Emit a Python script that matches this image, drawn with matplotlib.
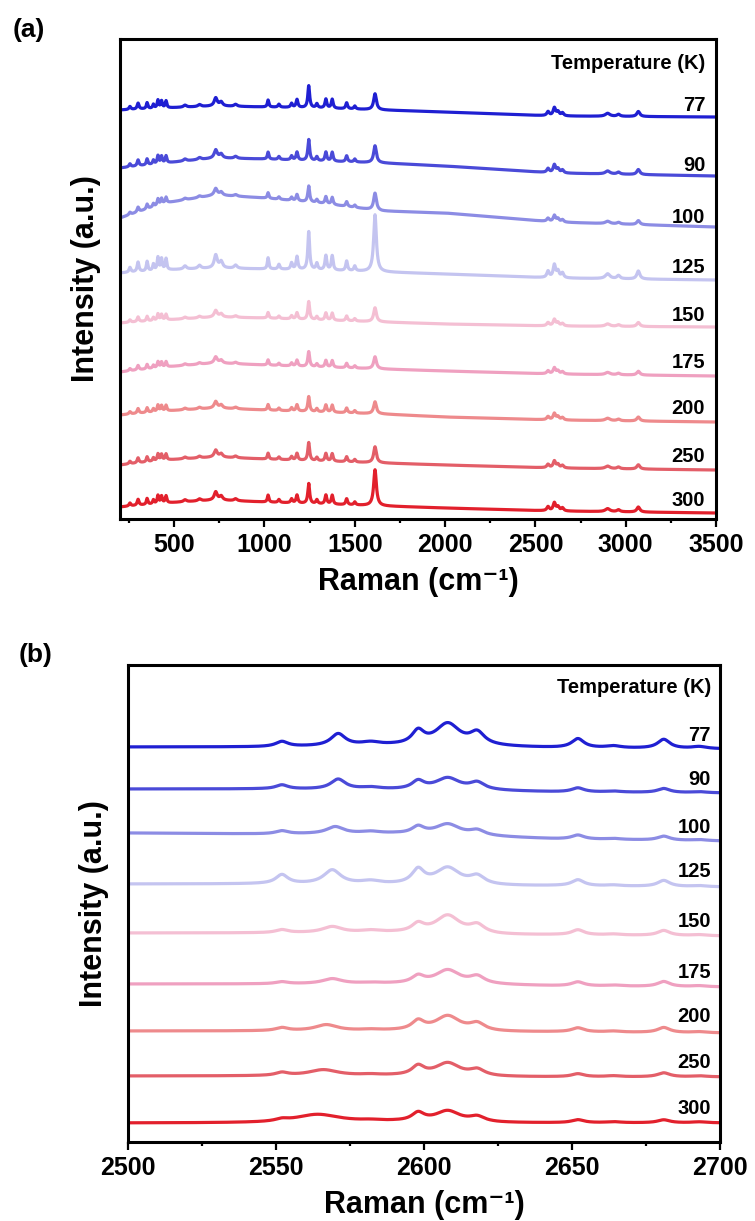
import numpy as np
import matplotlib.pyplot as plt
from matplotlib.ticker import MultipleLocator

plt.rcParams['font.family'] = ['Liberation Sans', 'DejaVu Sans']
plt.rcParams['font.weight'] = 'bold'

# temperatures and trace colours (top to bottom)
temps = [77, 90, 100, 125, 150, 175, 200, 250, 300]
colors = ['#1f1fd2', '#4a4ad8', '#8c8ce4', '#c4c4f0', '#f4bfd3',
          '#efa0c0', '#ee8a8c', '#e35e68', '#e2202c']

# ---- panel (a): full range spectra ----
# baseline (offset intensity, a.u.) read at these Raman shifts
base_x_a = [200, 450, 730, 1000, 1300, 1650, 2000, 2600, 3500]
base_a = {
    77:  [409, 411, 413, 412, 411, 409, 407, 403, 402],
    90:  [351, 356, 361, 360, 358, 356, 353, 346, 343],
    100: [301, 316, 324, 321, 316, 308, 306, 297, 292],
    125: [246, 249, 251, 250, 249, 247, 245, 241, 239],
    150: [196, 199, 202, 201, 199, 197, 195, 193, 192],
    175: [147, 152, 156, 154, 152, 150, 148, 145, 143],
    200: [104, 108, 111, 109, 107, 105, 102, 99, 97],
    250: [54, 59, 62, 60, 58, 56, 54, 51, 49],
    300: [12, 16, 19, 17, 15, 13, 11, 8, 6],
}
# minor bands (position, width, height for 77 K)
pos_a = [255, 300, 350, 385, 410, 430, 455, 560, 640, 730, 760, 840, 1020, 1080,
         1150, 1180, 1290, 1340, 1375, 1455, 1500, 2570, 2605, 2625, 2650, 2900,
         2960, 3070]
wid_a = [6, 6, 5, 5, 5, 5, 5, 10, 10, 10, 10, 10, 5, 6, 6, 6, 6, 6, 6, 6, 6,
         8, 8, 8, 8, 15, 10, 10]
rel_a = [3, 6, 6, 4, 8, 7, 7, 2, 2, 8, 4, 2, 7, 3, 4, 8, 4, 9, 9, 6, 3,
         4, 8, 4, 3, 3, 2, 5]
scale_a = [1.0, 1.0, 0.8, 1.6, 0.8, 0.75, 0.8, 0.85, 1.0]
# strong bands at 1245 and 1612 cm-1
h1245 = [22, 21, 16, 38, 18, 15, 15, 18, 20]
h1612 = [16, 17, 17, 57, 14, 12, 12, 16, 36]

# ---- panel (b): 2500-2700 cm-1 ----
base_x_b = [2500, 2545, 2590, 2625, 2645, 2700]
base_b = {
    77:  [395, 395, 396, 395, 394, 393],
    90:  [353, 353, 352, 351, 350, 349],
    100: [309, 308, 308, 305, 303, 301],
    125: [258, 258, 257, 256, 256, 255],
    150: [209, 209, 209, 207, 207, 206],
    175: [158, 158, 158, 157, 156, 155],
    200: [111, 111, 111, 110, 110, 109],
    250: [66, 66, 66, 65, 65, 65],
    300: [19, 19, 20, 19, 19, 19],
}
pos_b = [2552, 2570, 2582, 2598, 2608, 2618, 2652, 2664, 2681, 2693]
wid_b = [2.5, 3, 4, 2.5, 5, 3, 2.5, 3, 2.5, 3]
peak_b = {
    77:  [5, 12, 3, 13, 22, 12, 9, 2, 9, 2],
    90:  [4, 10, 2, 8, 12, 7, 4, 1, 4, 1],
    100: [3, 7, 2, 7, 11, 5, 4, 1, 4, 1],
    125: [9, 14, 3, 14, 17, 8, 6, 1, 6, 1],
    150: [3, 6, 2, 8, 18, 8, 5, 1, 5, 1],
    175: [2, 5, 1, 7, 14, 7, 4, 1, 5, 1],
    200: [3, 6, 1, 9, 15, 7, 4, 1, 5, 1],
    250: [3, 6, 1, 9, 13, 6, 3, 1, 4, 1],
    300: [2, 8, 1, 8, 11, 5, 3, 1, 3, 1],
}
# the 2570 band shifts and broadens with temperature
pos2570 = [2571, 2571, 2570, 2569, 2569, 2569, 2567, 2566, 2564]
wid2570 = [3, 3, 3.5, 3.5, 4, 4, 4.5, 6, 9]


def lorentz(x, p, w, h):
    return h / (1 + ((x - p) / w) ** 2)


fig = plt.figure(figsize=(7.55, 12.21), dpi=100)
W, H = 755, 1221
ax1 = fig.add_axes([120 / W, 1 - 519 / H, 596 / W, 480 / H])
ax2 = fig.add_axes([128 / W, 1 - 1142 / H, 592 / W, 477 / H])

xa = np.linspace(200, 3500, 6000)
for i, t in enumerate(temps):
    y = np.interp(xa, base_x_a, base_a[t])
    for p, w, h in zip(pos_a, wid_a, rel_a):
        y = y + lorentz(xa, p, w, h * scale_a[i])
    y = y + lorentz(xa, 1245, 6, h1245[i]) + lorentz(xa, 1612, 9, h1612[i])
    ax1.plot(xa, y, color=colors[i], lw=2.3)

xb = np.linspace(2500, 2700, 2000)
for i, t in enumerate(temps):
    y = np.interp(xb, base_x_b, base_b[t])
    pos = list(pos_b)
    wid = list(wid_b)
    pos[1] = pos2570[i]
    wid[1] = wid2570[i]
    for p, w, h in zip(pos, wid, peak_b[t]):
        y = y + lorentz(xb, p, w, h)
    ax2.plot(xb, y, color=colors[i], lw=2.3)

for ax, lim, yl, maj, mnr in [(ax1, (200, 3500), 480, 500, 250),
                               (ax2, (2500, 2700), 477, 50, 25)]:
    ax.set_xlim(*lim)
    ax.set_ylim(0, yl)
    ax.xaxis.set_major_locator(MultipleLocator(maj))
    ax.xaxis.set_minor_locator(MultipleLocator(mnr))
    ax.set_yticks([])
    for s in ax.spines.values():
        s.set_linewidth(2.2)
    ax.tick_params(axis='x', which='major', direction='out', length=6, width=1.6,
                   labelsize=18, pad=4)
    ax.tick_params(axis='x', which='minor', direction='out', length=3, width=1.6)
    ax.set_xlabel('Raman (cm\u207b\u00b9)', fontsize=22, fontweight='bold', labelpad=7)
    ax.set_ylabel('Intensity (a.u.)', fontsize=22, fontweight='bold', labelpad=14)
    for lab in ax.get_xticklabels():
        lab.set_fontweight('bold')

ax1.set_xticks([500, 1000, 1500, 2000, 2500, 3000, 3500])

# temperature labels (a)
lab_y_a = [105, 165, 217, 267, 315, 362, 408, 457, 500]
for t, yp in zip(temps, lab_y_a):
    ax1.text(3440, 519 - yp, str(t), fontsize=14.5, fontweight='bold',
             ha='right', va='center')
ax1.text(3440, 519 - 63, 'Temperature (K)', fontsize=14.5, fontweight='bold',
         ha='right', va='center')

lab_y_b = [736, 780, 828, 872, 922, 972, 1017, 1063, 1109]
for t, yp in zip(temps, lab_y_b):
    ax2.text(2697, 1142 - yp, str(t), fontsize=14.5, fontweight='bold',
             ha='right', va='center')
ax2.text(2697, 1142 - 688, 'Temperature (K)', fontsize=14.5, fontweight='bold',
         ha='right', va='center')

fig.text(29 / W, 1 - 30 / H, '(a)', fontsize=19, fontweight='bold', ha='center', va='center')
fig.text(36 / W, 1 - 655 / H, '(b)', fontsize=19, fontweight='bold', ha='center', va='center')

fig.savefig('out.png', dpi=100)
